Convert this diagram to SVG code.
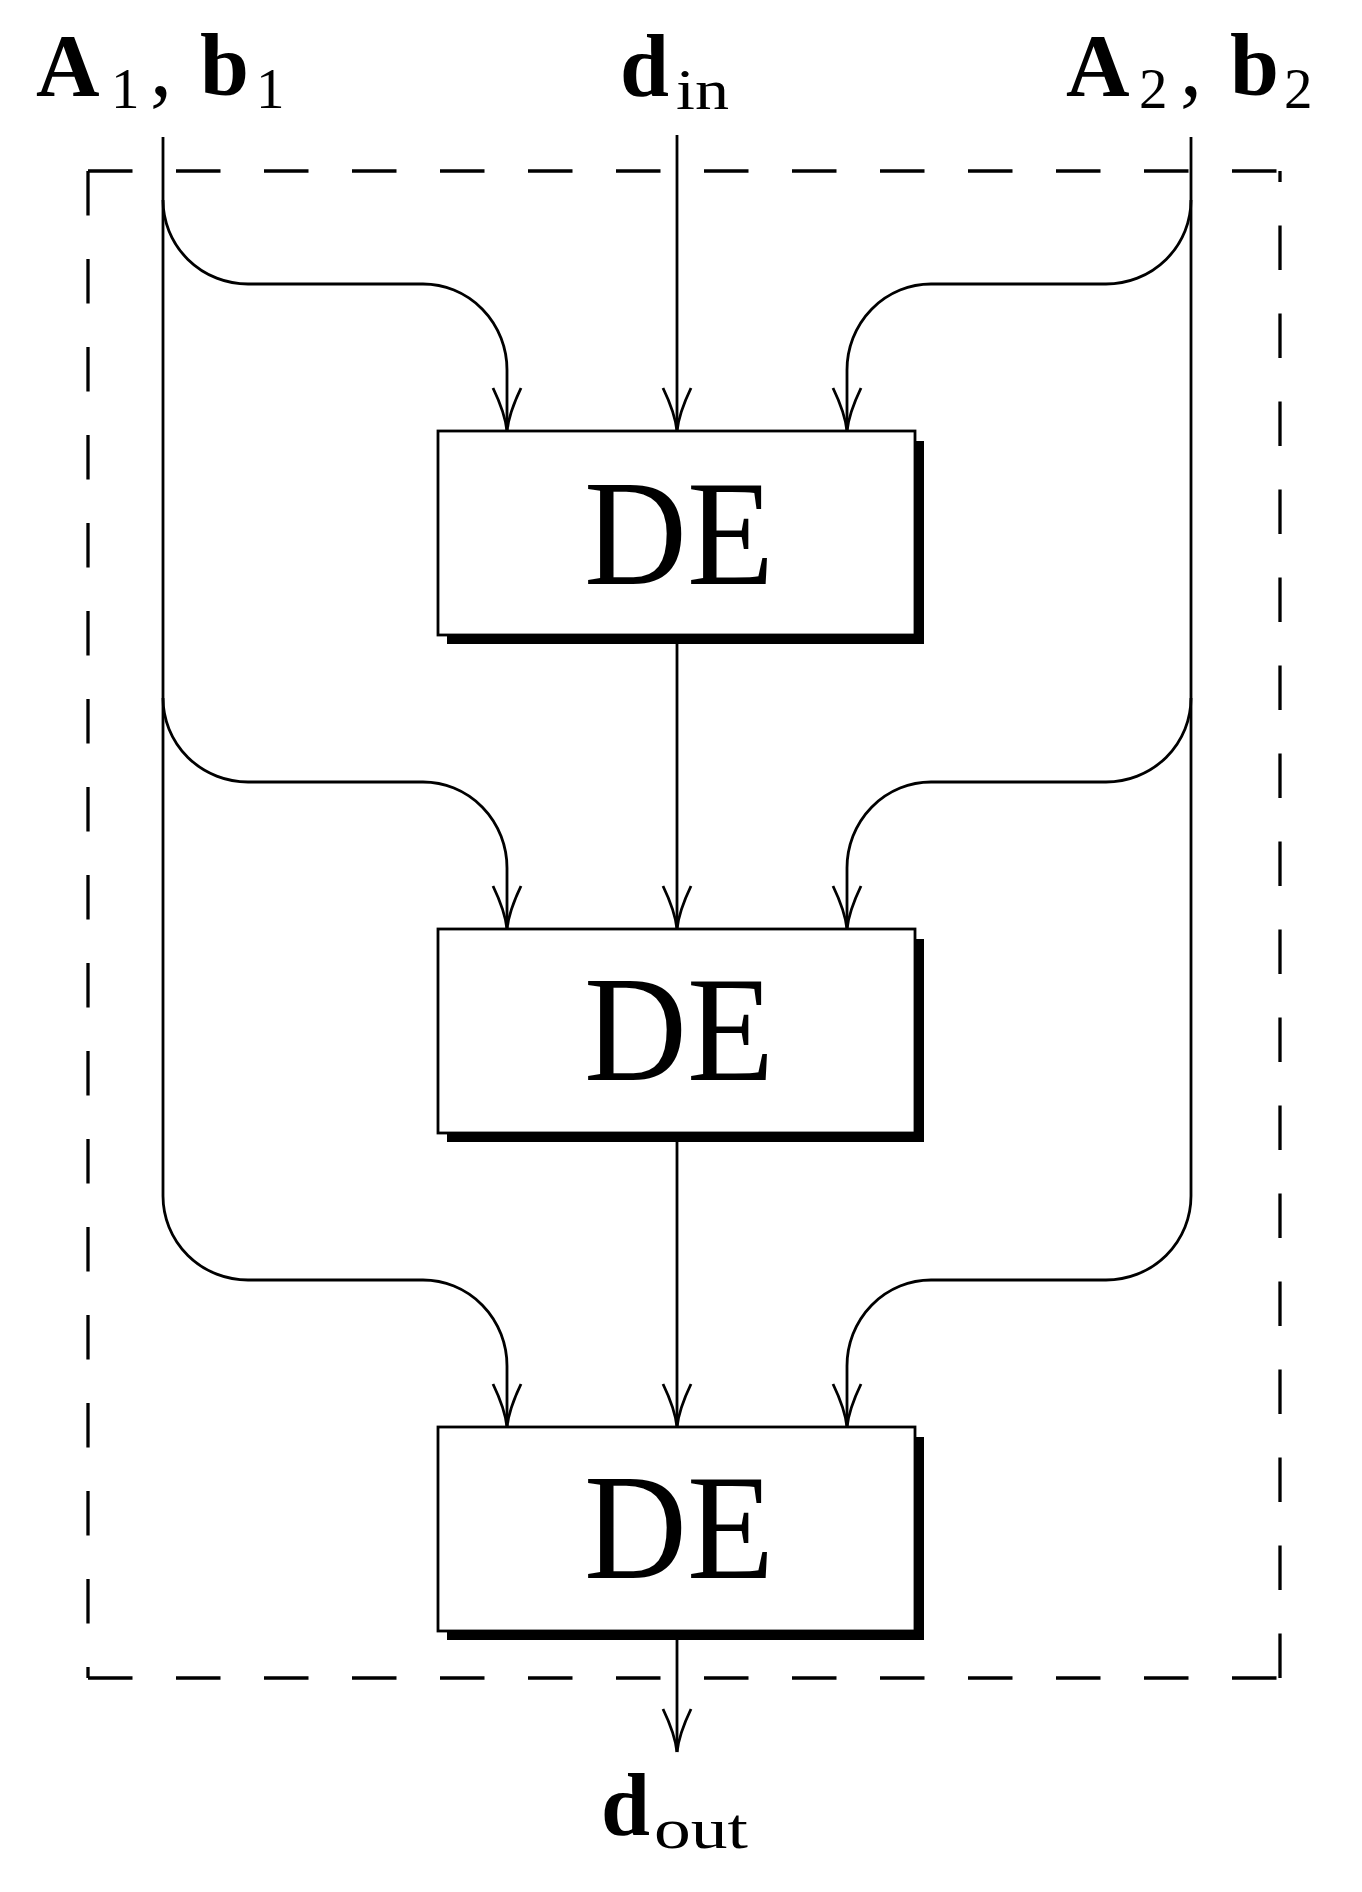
<svg xmlns="http://www.w3.org/2000/svg" width="1362" height="1892" viewBox="0 0 1362 1892">
<style>
.ln{fill:none;stroke:#000;stroke-width:2.8}
.dash{fill:none;stroke:#000;stroke-width:3.3;stroke-dasharray:44.5 43.5}
.box{fill:#fff;stroke:#000;stroke-width:2.8}
.shadow{fill:#000}
.de{font-family:"Liberation Serif","Times New Roman",serif;font-size:150px;fill:#000}
.lab{font-family:"Liberation Serif","Times New Roman",serif;fill:#000}
.bf{font-weight:bold;font-size:88px}
.cm{font-size:88px}
.sub{font-size:57px}
</style>
<defs>
<marker id="arr" markerUnits="userSpaceOnUse" orient="auto" overflow="visible" refX="0" refY="0" markerWidth="1" markerHeight="1">
<path d="M-43,-14 Q-18,-2 0,0 M-43,14 Q-18,2 0,0" fill="none" stroke="#000" stroke-width="2.8"/>
</marker>
</defs>
<rect width="1362" height="1892" fill="#fff"/>
<g id="frame">
<path class="dash" d="M88,171 H1280"/>
<path class="dash" d="M88,171 V1678"/>
<path class="dash" d="M88,1678 H1280"/>
<path class="dash" d="M1280,1678 V171"/>
</g>
<g id="connectors">
<path class="ln" d="M163,137 V1196"/>
<path class="ln" d="M1191,137 V1196"/>
<path class="ln" marker-end="url(#arr)" d="M163,200 A85 84 0 0 0 248,284 H423 A84 86 0 0 1 507,370 V431"/>
<path class="ln" marker-end="url(#arr)" d="M163,698 A85 84 0 0 0 248,782 H423 A84 86 0 0 1 507,868 V929"/>
<path class="ln" marker-end="url(#arr)" d="M163,1196 A85 84 0 0 0 248,1280 H423 A84 86 0 0 1 507,1366 V1427"/>
<path class="ln" marker-end="url(#arr)" d="M1191,200 A85 84 0 0 1 1106,284 H931 A84 86 0 0 0 847,370 V431"/>
<path class="ln" marker-end="url(#arr)" d="M1191,698 A85 84 0 0 1 1106,782 H931 A84 86 0 0 0 847,868 V929"/>
<path class="ln" marker-end="url(#arr)" d="M1191,1196 A85 84 0 0 1 1106,1280 H931 A84 86 0 0 0 847,1366 V1427"/>
<path class="ln" marker-end="url(#arr)" d="M677,135 V431"/>
<path class="ln" marker-end="url(#arr)" d="M677,644 V929"/>
<path class="ln" marker-end="url(#arr)" d="M677,1142 V1427"/>
<path class="ln" marker-end="url(#arr)" d="M677,1640 V1752"/>
</g>
<g id="de1">
<rect class="shadow" x="447" y="441" width="477" height="203"/>
<rect class="box" x="438" y="431" width="477" height="204"/>
<text class="de" x="584" y="584" textLength="190" lengthAdjust="spacingAndGlyphs">DE</text>
</g>
<g id="de2">
<rect class="shadow" x="447" y="939" width="477" height="203"/>
<rect class="box" x="438" y="929" width="477" height="204"/>
<text class="de" x="584" y="1080" textLength="190" lengthAdjust="spacingAndGlyphs">DE</text>
</g>
<g id="de3">
<rect class="shadow" x="447" y="1437" width="477" height="203"/>
<rect class="box" x="438" y="1427" width="477" height="204"/>
<text class="de" x="584" y="1578" textLength="190" lengthAdjust="spacingAndGlyphs">DE</text>
</g>
<g id="in1">
<text class="lab"><tspan class="bf" x="36" y="95">A</tspan><tspan class="sub" x="111" y="108">1</tspan><tspan class="cm" x="150" y="95">, </tspan><tspan class="bf" x="200" y="95">b</tspan><tspan class="sub" x="256" y="108">1</tspan></text>
</g>
<g id="din">
<text class="lab"><tspan class="bf" x="620" y="96">d</tspan><tspan class="sub" x="676" y="109" textLength="53" lengthAdjust="spacingAndGlyphs">in</tspan></text>
</g>
<g id="in2">
<text class="lab"><tspan class="bf" x="1066" y="95">A</tspan><tspan class="sub" x="1139" y="108">2</tspan><tspan class="cm" x="1180" y="95">, </tspan><tspan class="bf" x="1230" y="95">b</tspan><tspan class="sub" x="1284" y="108">2</tspan></text>
</g>
<g id="dout">
<text class="lab"><tspan class="bf" x="601" y="1835">d</tspan><tspan class="sub" x="654" y="1848" textLength="94" lengthAdjust="spacingAndGlyphs">out</tspan></text>
</g>
</svg>
